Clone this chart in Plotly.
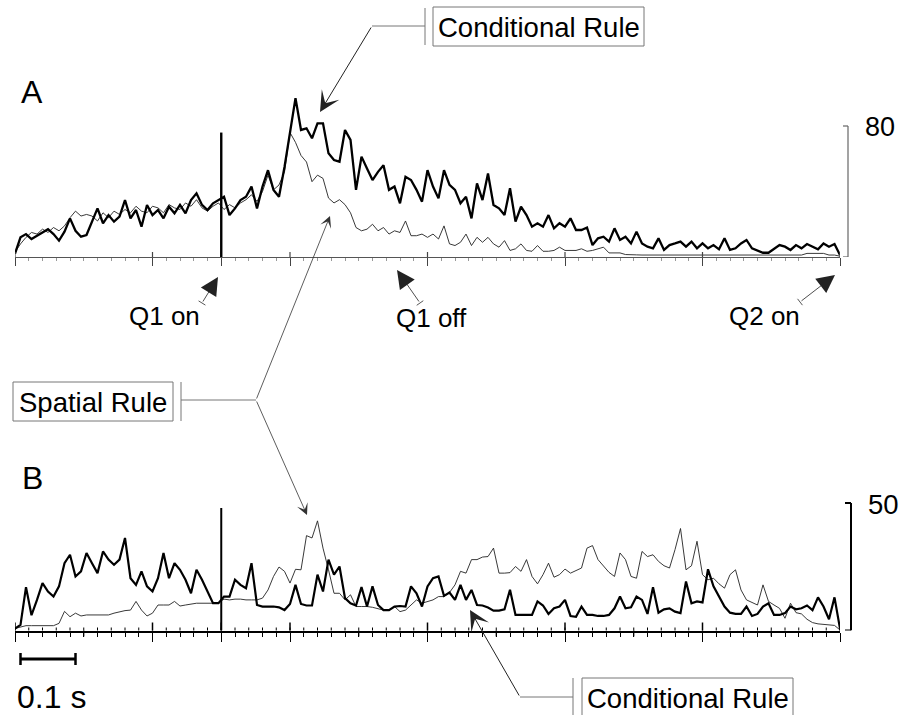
import plotly.graph_objects as go

W, H = 914, 715
FONT = "Liberation Sans, Arial, Helvetica, sans-serif"

# ---- time base (seconds) -------------------------------------------------
SAMPLE_STEP = 0.01
TIME_SPAN = 1.5
Q1_ON = 0.375
MAJOR_TICKS = [0, 0.25, 0.375, 0.5, 0.75, 1.0, 1.25, 1.5]
MID_TICKS = [0.125, 0.625, 0.875, 1.125, 1.375]
MINOR_STEP = 0.025
TIME_BAR = 0.1
SCALE_A = 80
SCALE_B = 50

# ---- panel A: firing rate (spikes/s) ---------------------------------------
a_conditional = [
    2, 12, 14, 11, 13, 15, 17, 14, 10, 15.5,
    23.6, 16, 12.4, 13.4, 21.6, 29.7, 20.6, 25.6, 21.6, 24.6,
    34.8, 23.6, 28.7, 18.5, 31.8, 25.6, 28.7, 23.6, 30.7, 26.7,
    31.8, 26.7, 34.8, 38.9, 31.8, 28.7, 32.8, 34.8, 36.8, 25.6,
    29.7, 34.8, 36.8, 43, 29.7, 43, 53, 41, 36.8, 55,
    75.5, 97, 77.6, 78.6, 72.5, 81.6, 81.6, 63.3, 59.2, 58.2,
    77.6, 71.5, 41, 61.3, 54, 47, 52, 56, 41, 43,
    32.8, 49, 47, 41, 33.8, 53, 43, 35.8, 53, 44,
    41, 32.8, 36.8, 23.6, 45, 34.8, 51, 31.8, 29.7, 25.6,
    42, 21.6, 30.7, 25.6, 18.5, 20.6, 18.5, 25.6, 17.5, 20.6,
    18.5, 23.6, 16.5, 16.5, 18, 7.3, 11.4, 12.4, 9.4, 17.5,
    10.4, 12.4, 8.3, 15.5, 8.3, 6.3, 5.3, 11.4, 4.3, 7.3,
    8.3, 9.4, 6.3, 9.4, 5.3, 8.3, 5.3, 7.3, 4.7, 11.4,
    4.3, 5.3, 8.3, 10.4, 5.3, 3.9, 2.6, 2.6, 4.7, 7.3,
    6.3, 4.3, 7.3, 5.3, 7.9, 6.3, 4.7, 8.3, 6.3, 7.9,
    1.2,
]
a_spatial = [
    3, 8, 12, 15, 14, 17, 15, 18, 16, 19,
    24, 28, 25, 26, 25, 22, 27, 24, 28, 26,
    29, 27, 31, 28, 27, 31, 30, 27, 32, 30,
    29, 33, 31, 35, 30, 28, 31, 33, 29, 32,
    30, 33, 35, 38, 34, 40, 50, 41, 44, 52,
    76, 70, 62, 58, 46, 50, 48, 36, 33, 35,
    32, 27, 18, 16, 17, 20, 16, 18, 14, 16,
    15, 22, 13, 13, 14, 12, 14, 11, 19, 8,
    7, 9, 14, 7, 12, 9, 12, 8, 6, 10,
    4, 5, 8, 4, 3.5, 7, 3.5, 3.5, 4, 6,
    4, 4, 4, 5, 3.5, 4, 5, 6, 2.5, 2.5,
    2.5, 1.5, 1.2, 1.3, 1.2, 1.2, 1.3, 1.2, 1.2, 1.2,
    1.3, 1.2, 1.2, 1.2, 1.3, 1.2, 1.2, 1.2, 1.3, 1.2,
    1.2, 1.2, 1.3, 1.2, 1.2, 1.2, 1.3, 1.2, 1.2, 1.2,
    1.3, 1.2, 1.2, 1.2, 2.2, 2.2, 2.3, 2.2, 1.2, 1.2,
    0.5,
]

# ---- panel B: firing rate (spikes/s) ---------------------------------------
b_conditional = [
    0.8, 2.2, 17, 6, 12, 18.6, 15.3, 13.3, 17.3, 26.4,
    29.7, 21.2, 23.2, 30.4, 26.4, 22.5, 31, 27.8, 25.8, 27.8,
    36.3, 20.5, 17.9, 23.2, 17.3, 15.3, 20.5, 30.4, 20.5, 26.4,
    23.8, 19.9, 14.6, 23.8, 19.9, 15.3, 10.7, 10.7, 13.3, 13.3,
    19.9, 17.9, 16.6, 26.4, 10, 9.4, 9.4, 9.4, 9.1, 8,
    10.4, 17.9, 10.4, 9.8, 9.8, 21.9, 15.3, 27.8, 21.9, 25.1,
    12.7, 10.7, 9.8, 17, 9.4, 17.3, 10, 8, 8, 9.4,
    9.6, 9.4, 17.3, 14.6, 9.4, 17.3, 20.5, 21.2, 13.6, 14.9,
    12, 17.9, 12, 15.9, 10, 9.8, 9, 7.8, 7.8, 8.3,
    16, 6.1, 6.1, 6.1, 6.1, 11.4, 9.8, 6.5, 8.7, 9.4,
    12, 5.7, 5.4, 9.4, 6.1, 6.1, 5.7, 5.7, 6.1, 8.7,
    13.3, 8.7, 9.1, 13.3, 12, 6.5, 17, 7, 8.3, 8.7,
    7.4, 6.8, 19.2, 10.7, 11.4, 11, 24, 17.3, 13.3, 9.4,
    7, 6.5, 6.5, 9.4, 5.7, 6.5, 9.4, 10.7, 6.1, 6.1,
    6.8, 9.4, 8.3, 8.7, 9.8, 8, 13, 9.4, 4.4, 13,
    0.8,
]
b_spatial = [
    0.8, 1.5, 1.9, 1.9, 1.9, 1.9, 1.9, 1.9, 2.8, 7.5,
    5.4, 6.8, 5.7, 6.1, 6.1, 6.1, 6.1, 6.1, 6.8, 7.4,
    7.8, 8, 11.4, 8, 5.7, 6.8, 10, 10, 10, 11.4,
    9.6, 10, 10.3, 10.7, 10.7, 10.7, 10.7, 11, 12.3, 12,
    12.3, 12.3, 12, 12, 12, 12.7, 15.9, 21.2, 24.9, 23.2,
    18.6, 24, 23.8, 37.2, 36.3, 43, 32.3, 23.8, 14.6, 14.6,
    12, 14, 9.4, 9.4, 9.4, 9.1, 8.7, 8, 8, 9.4,
    7.4, 8, 10, 12, 10.7, 11.4, 12, 13.3, 13.3, 14.9,
    17.9, 23.2, 22.5, 27.8, 27.8, 28.8, 29, 32.3, 22.5, 22.5,
    22.7, 25.1, 23.2, 27.8, 21.2, 18.3, 21.9, 26.4, 20.9, 21.9,
    24.1, 22.5, 23.5, 24.5, 32.3, 33.3, 27.8, 25.1, 22.8, 21.2,
    30.4, 27.8, 21.2, 20.5, 31, 29, 29.7, 27.1, 25.4, 24.5,
    31.7, 40, 23.8, 25.4, 35, 21.9, 19.9, 20.5, 18.3, 16.6,
    21.9, 23.8, 15.9, 12, 11, 10, 17.9, 11.4, 10, 8.7,
    4.8, 10.7, 7, 6.5, 4.4, 3.1, 2.6, 2.4, 2.3, 2,
    0.2,
]

time_s = [round(i * SAMPLE_STEP, 3) for i in range(len(a_conditional))]


def px(x):
    return x / W


def py(y):
    return 1 - y / H


fig = go.Figure()
fig.add_trace(go.Scatter(x=time_s, y=a_spatial, mode="lines",
                         line=dict(color="#222", width=0.9), xaxis="x", yaxis="y"))
fig.add_trace(go.Scatter(x=time_s, y=a_conditional, mode="lines",
                         line=dict(color="black", width=2.3), xaxis="x", yaxis="y"))
fig.add_trace(go.Scatter(x=time_s, y=b_spatial, mode="lines",
                         line=dict(color="#222", width=0.9), xaxis="x2", yaxis="y2"))
fig.add_trace(go.Scatter(x=time_s, y=b_conditional, mode="lines",
                         line=dict(color="black", width=2.2), xaxis="x2", yaxis="y2"))

X_DOMAIN = [px(15), px(840)]
A_BASE, A_TOP, A_SCALE_TOP = 257, 90, 126
B_BASE, B_TOP, B_SCALE_TOP = 630.5, 495, 503


def time_axis(anchor, line_color, line_width, major_color, minor_color, major_len, minor_len):
    return dict(
        domain=X_DOMAIN, range=[0, TIME_SPAN], anchor=anchor,
        showgrid=False, zeroline=False, showticklabels=False,
        showline=True, linecolor=line_color, linewidth=line_width,
        ticks="outside", tickvals=MAJOR_TICKS, ticklen=major_len,
        tickcolor=major_color, tickwidth=1.2,
        minor=dict(ticks="outside", dtick=MINOR_STEP, tick0=0, ticklen=minor_len,
                   tickcolor=minor_color, tickwidth=1, showgrid=False),
    )


fig.update_layout(
    width=W, height=715, margin=dict(l=0, r=0, t=0, b=0),
    paper_bgcolor="white", plot_bgcolor="rgba(0,0,0,0)", showlegend=False,
    font=dict(family=FONT, color="black"),
    xaxis=time_axis("y", "#555", 1, "#444", "#999", 8, 3),
    yaxis=dict(domain=[py(A_BASE), py(A_TOP)],
               range=[0, SCALE_A * (A_BASE - A_TOP) / (A_BASE - A_SCALE_TOP)],
               visible=False),
    xaxis2=time_axis("y2", "black", 2, "black", "black", 9, 4),
    yaxis2=dict(domain=[py(B_BASE), py(B_TOP)],
                range=[0, SCALE_B * (B_BASE - B_TOP) / (B_BASE - B_SCALE_TOP)],
                visible=False),
)

shapes = []


def seg(x0, y0, x1, y1, color="#777", width=1, xref="paper", yref="paper"):
    shapes.append(dict(type="line", x0=x0, y0=y0, x1=x1, y1=y1, xref=xref, yref=yref,
                       line=dict(color=color, width=width)))


# upward halves of the time-axis ticks
for t in MAJOR_TICKS:
    seg(t, py(A_BASE), t, py(A_BASE - 5), "#444", 1.2, xref="x")
    seg(t, py(B_BASE), t, py(B_BASE - 8), "black", 1.5, xref="x2")
for t in MID_TICKS:
    seg(t, py(B_BASE), t, py(B_BASE + 6), "black", 1.2, xref="x2")
for k in range(int(round(TIME_SPAN / MINOR_STEP)) + 1):
    seg(k * MINOR_STEP, py(B_BASE), k * MINOR_STEP, py(B_BASE - 3), "black", 1, xref="x2")

# question-onset marker
seg(Q1_ON, -1, Q1_ON, 76, "black", 2.4, xref="x", yref="y")
seg(Q1_ON, 0, Q1_ON, 48, "black", 2.0, xref="x2", yref="y2")

# rate scale bars
seg(px(848), 0, px(848), SCALE_A, "#666", 1.2, yref="y")
seg(px(843), SCALE_A, px(848), SCALE_A, "#666", 1.2, yref="y")
seg(px(843), 0, px(848), 0, "#666", 1.2, yref="y")
seg(px(851), 0, px(851), SCALE_B, "black", 2, yref="y2")
seg(px(845), SCALE_B, px(851), SCALE_B, "black", 2, yref="y2")
seg(px(845), 0, px(851), 0, "black", 2, yref="y2")

# time scale bar
bar_y = py(659)
seg(0.01, bar_y, 0.01 + TIME_BAR, bar_y, "black", 3, xref="x2")
seg(0.01, py(653), 0.01, py(665), "black", 2.5, xref="x2")
seg(0.01 + TIME_BAR, py(653), 0.01 + TIME_BAR, py(665), "black", 2.5, xref="x2")

# callout boxes and their leader lines
for (x0, y0, x1, y1) in [(433, 7, 644, 46), (13, 382, 173, 421), (582, 678, 793, 718)]:
    shapes.append(dict(type="rect", xref="paper", yref="paper",
                       x0=px(x0), y0=py(y0), x1=px(x1), y1=py(y1),
                       line=dict(color="#777", width=1), fillcolor="rgba(0,0,0,0)"))
seg(px(425), py(8), px(425), py(45))
seg(px(425), py(26), px(372), py(26))
seg(px(181), py(382), px(181), py(421))
seg(px(181), py(400), px(256), py(400))
seg(px(573), py(678), px(573), py(715))
seg(px(573), py(697), px(520), py(697))

# T-ends on event arrows
for (tx, ty, ex, ey) in [(202, 303, 218, 277), (420, 303, 397, 270), (800, 302, 835, 275)]:
    dx, dy = ex - tx, ey - ty
    n = (dx * dx + dy * dy) ** 0.5
    nx, ny = -dy / n * 4, dx / n * 4
    seg(px(tx - nx), py(ty - ny), px(tx + nx), py(ty + ny), "#555", 1)

fig.update_layout(shapes=shapes)

ann = []


def arrow(tail, tip, head, size, color, width):
    ann.append(dict(xref="paper", yref="paper", x=px(tip[0]), y=py(tip[1]),
                    ax=tail[0] - tip[0], ay=tail[1] - tip[1], text="",
                    showarrow=True, arrowhead=head, arrowsize=size,
                    arrowwidth=width, arrowcolor=color, standoff=0, startstandoff=0))


arrow((372, 26), (320, 112), 3, 3.4, "#222", 1)
arrow((256, 400), (330, 216), 3, 2.4, "#333", 0.8)
arrow((256, 400), (307, 515), 3, 2.4, "#333", 0.8)
arrow((520, 697), (470, 610), 3, 3.4, "#222", 1)
arrow((202, 303), (218, 277), 2, 4.5, "#222", 0.8)
arrow((420, 303), (397, 270), 2, 4.5, "#222", 0.8)
arrow((800, 302), (835, 275), 2, 4.5, "#222", 0.8)


def label(text, x, y, size, xanchor="center"):
    ann.append(dict(xref="paper", yref="paper", x=px(x), y=py(y), text=text,
                    showarrow=False, xanchor=xanchor, yanchor="middle",
                    font=dict(family=FONT, size=size, color="black")))


label("A", 32, 92, 32)
label("B", 32, 478, 32)
label("Conditional Rule", 538.5, 28, 27.5)
label("Spatial Rule", 93, 402, 27.5)
label("Conditional Rule", 687.5, 698, 27.5)
label("Q1 on", 164, 316, 26)
label("Q1 off", 431, 318, 26)
label("Q2 on", 764, 316, 26)
label("80", 863, 127, 27, "left")
label("50", 866, 505, 27.5, "left")
label("0.1 s", 51, 697, 32)

fig.update_layout(annotations=ann)
fig.write_html("out.html")
